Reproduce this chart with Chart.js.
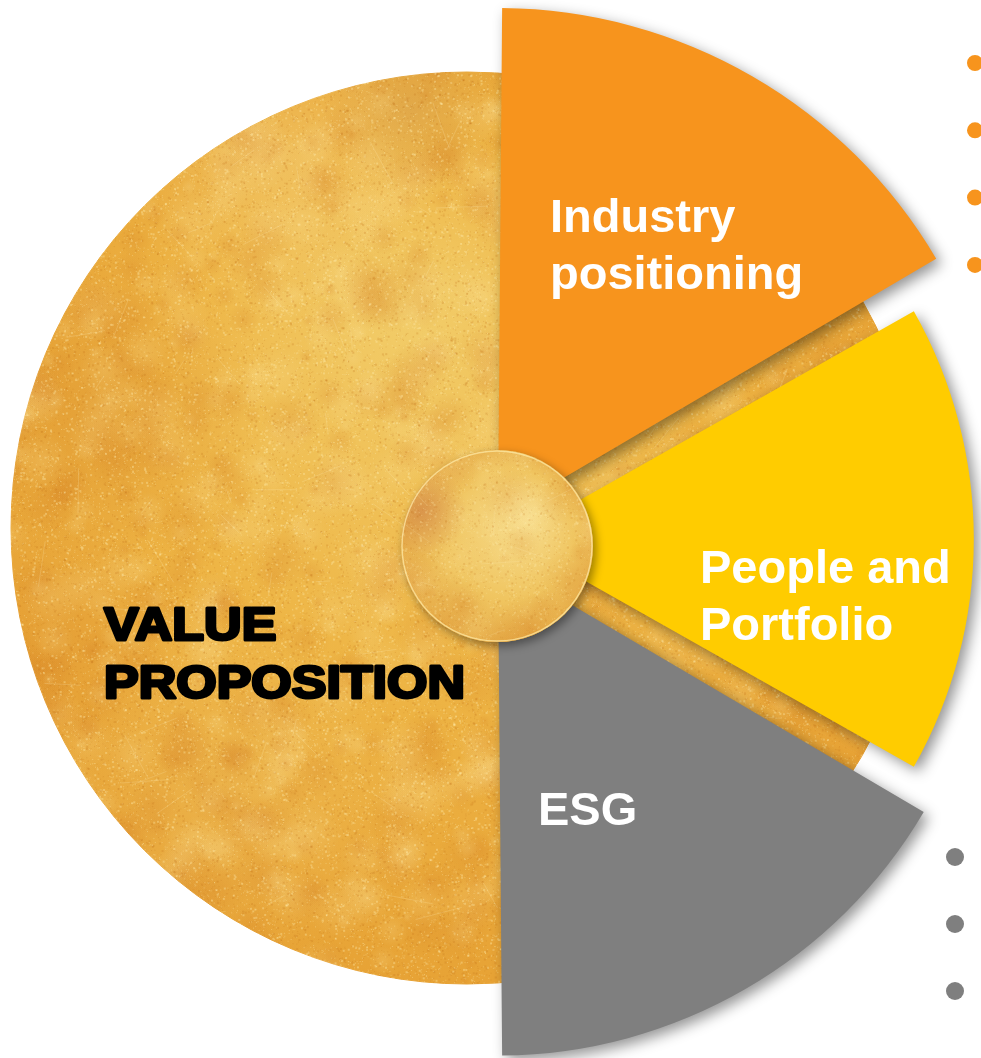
<!DOCTYPE html>
<html>
<head>
<meta charset="utf-8">
<script src="https://cdn.jsdelivr.net/npm/chart.js@4"></script>
<style>
  html, body { margin: 0; padding: 0; background: #fff; overflow: hidden; }
  #wrap { position: relative; width: 981px; height: 1058px; }
</style>
</head>
<body>
<div id="wrap"><canvas id="wheel"></canvas></div>
<script>
// slices, clockwise from 12 o'clock
const labels = ['Industry positioning', 'People and Portfolio', 'ESG', 'VALUE PROPOSITION'];
const labelLines = [['Industry', 'positioning'], ['People and', 'Portfolio'], ['ESG'], ['VALUE', 'PROPOSITION']];
const sliceAngles = [60, 60, 60, 180];
// radius of each pillar on a 0-100 radial scale (value proposition sits in the base disc)
const pillarValues = [100.5, 91, 97.5, 0];
const baseValues = [95, 95, 95, 95];
const orangeBullets = [1, 2, 3, 4];
const greyBullets = [1, 2, 3];

const sliceColors = ['#F7941D', '#FFCC00', '#7F7F7F', 'rgba(0,0,0,0)'];

const W = 981, H = 1058;

// gold leaf grain, transparent so it can go over any gradient
function grain(seed) {
  const c = document.createElement('canvas');
  c.width = W; c.height = H;
  const g = c.getContext('2d');
  let s = seed;
  const rnd = () => (s = (s * 16807) % 2147483647) / 2147483647;
  for (let i = 0; i < 1400; i++) {
    const x = rnd() * W, y = rnd() * H, r = 5 + rnd() * 28;
    const col = rnd() > 0.5 ? '252,226,150' : '212,128,36';
    const rg = g.createRadialGradient(x, y, 0, x, y, r);
    rg.addColorStop(0, 'rgba(' + col + ',0.22)');
    rg.addColorStop(1, 'rgba(' + col + ',0)');
    g.fillStyle = rg;
    g.fillRect(x - r, y - r, r * 2, r * 2);
  }
  for (let i = 0; i < 90000; i++) {
    const x = rnd() * W, y = rnd() * H;
    g.fillStyle = rnd() > 0.45 ? 'rgba(255,238,175,0.35)' : 'rgba(190,108,25,0.22)';
    const sz = rnd() > 0.8 ? 2 : 1;
    g.fillRect(x, y, sz, sz);
  }
  g.lineWidth = 1;
  for (let i = 0; i < 160; i++) {
    const x = rnd() * W, y = rnd() * H, a = rnd() * Math.PI, l = 10 + rnd() * 40;
    g.strokeStyle = 'rgba(255,240,190,0.2)';
    g.beginPath();
    g.moveTo(x, y);
    g.lineTo(x + Math.cos(a) * l, y + Math.sin(a) * l);
    g.stroke();
  }
  return c;
}

const grainTex = grain(12345);
const baseTex = document.createElement('canvas');
baseTex.width = W; baseTex.height = H;
(function () {
  const g = baseTex.getContext('2d');
  const grad = g.createRadialGradient(430, 320, 10, 460, 520, 520);
  grad.addColorStop(0, '#F2CC68');
  grad.addColorStop(0.5, '#EEB545');
  grad.addColorStop(1, '#E6A033');
  g.fillStyle = grad;
  g.fillRect(0, 0, W, H);
  // a few broad shades like the leaf folds
  [[120, 420, 160, '215,135,40', 0.35], [300, 180, 150, '245,215,140', 0.35], [430, 120, 90, '200,150,90', 0.3],
   [250, 800, 180, '240,200,110', 0.3], [80, 650, 120, '220,140,45', 0.3]].forEach(b => {
    const rg = g.createRadialGradient(b[0], b[1], 0, b[0], b[1], b[2]);
    rg.addColorStop(0, 'rgba(' + b[3] + ',' + b[4] + ')');
    rg.addColorStop(1, 'rgba(' + b[3] + ',0)');
    g.fillStyle = rg;
    g.fillRect(b[0] - b[2], b[1] - b[2], b[2] * 2, b[2] * 2);
  });
  g.drawImage(grainTex, 0, 0);
})();
const goldPattern = document.createElement('canvas').getContext('2d').createPattern(baseTex, 'no-repeat');

const wheelDecor = {
  id: 'wheelDecor',
  beforeDatasetDraw(chart, args) {
    const ctx = chart.ctx;
    ctx.save();
    if (args.index === 1) {
      ctx.translate(-18, -11);
    } else {
      ctx.shadowColor = 'rgba(0,0,0,0.42)';
      ctx.shadowBlur = 14;
      ctx.shadowOffsetX = 5;
      ctx.shadowOffsetY = 5;
    }
  },
  afterDatasetDraw(chart) {
    chart.ctx.restore();
  },
  afterDatasetsDraw(chart) {
    const ctx = chart.ctx;
    const r = chart.scales.r;
    const cx = r.xCenter, cy = r.yCenter;

    // hub
    const hx = cx + 12, hy = cy + 7, hr = 96;
    ctx.save();
    ctx.beginPath();
    ctx.arc(hx, hy, hr, 0, Math.PI * 2);
    ctx.shadowColor = 'rgba(0,0,0,0.4)';
    ctx.shadowBlur = 10;
    ctx.shadowOffsetX = 3;
    ctx.shadowOffsetY = 4;
    ctx.fillStyle = '#EFC25C';
    ctx.fill();
    ctx.restore();
    ctx.save();
    ctx.beginPath();
    ctx.arc(hx, hy, hr, 0, Math.PI * 2);
    ctx.clip();
    const hg = ctx.createRadialGradient(hx + 30, hy - 30, 5, hx, hy, hr * 1.1);
    hg.addColorStop(0, '#F7DC8C');
    hg.addColorStop(0.6, '#F0C560');
    hg.addColorStop(1, '#E5A845');
    ctx.fillStyle = hg;
    ctx.fillRect(hx - hr, hy - hr, hr * 2, hr * 2);
    const og = ctx.createRadialGradient(hx - 75, hy - 35, 2, hx - 75, hy - 35, 45);
    og.addColorStop(0, 'rgba(205,125,70,0.55)');
    og.addColorStop(1, 'rgba(205,125,70,0)');
    ctx.fillStyle = og;
    ctx.fillRect(hx - hr, hy - hr, hr * 2, hr * 2);
    ctx.globalAlpha = 0.8;
    ctx.drawImage(grainTex, 0, 0);
    ctx.globalAlpha = 1;
    ctx.beginPath();
    ctx.arc(hx, hy, hr - 1, 0, Math.PI * 2);
    ctx.strokeStyle = 'rgba(255,236,170,0.7)';
    ctx.lineWidth = 1.5;
    ctx.stroke();
    ctx.restore();

    // labels
    const pos = [[65, -307], [215, 44], [53, 286], [-381, 101]];
    ctx.save();
    ctx.textBaseline = 'alphabetic';
    ctx.textAlign = 'left';
    labelLines.forEach((lines, i) => {
      lines.forEach((t, j) => {
        const x = cx + pos[i][0], y = cy + pos[i][1] + j * 57;
        if (i === 3) {
          ctx.save();
          ctx.translate(x, y + (j ? 1 : 0));
          ctx.scale(1.13, 1);
          ctx.font = 'bold 46px "Liberation Sans", Arial, sans-serif';
          ctx.fillStyle = '#000';
          ctx.strokeStyle = '#000';
          ctx.lineWidth = 3;
          ctx.lineJoin = 'round';
          ctx.strokeText(t, 0, 0);
          ctx.fillText(t, 0, 0);
          ctx.restore();
        } else {
          ctx.font = 'bold 47px "Liberation Sans", Arial, sans-serif';
          ctx.fillStyle = '#fff';
          ctx.fillText(t, x, y);
        }
      });
    });
    ctx.restore();
  },
  afterDraw(chart) {
    const ctx = chart.ctx;
    ctx.save();
    ctx.fillStyle = '#F7941D';
    orangeBullets.forEach((b, i) => {
      ctx.beginPath();
      ctx.arc(975, 63 + i * 67.3, 8, 0, Math.PI * 2);
      ctx.fill();
    });
    ctx.fillStyle = '#7F7F7F';
    greyBullets.forEach((b, i) => {
      ctx.beginPath();
      ctx.arc(955, 857 + i * 67, 9, 0, Math.PI * 2);
      ctx.fill();
    });
    ctx.restore();
  }
};

new Chart(document.getElementById('wheel'), {
  type: 'polarArea',
  data: {
    labels: labels,
    datasets: [{
      label: 'Pillars',
      data: pillarValues,
      backgroundColor: sliceColors,
      borderWidth: 0,
      offset: [104, 104, 104, 0],
      angle: c => sliceAngles[c.dataIndex],
      clip: false
    }, {
      label: 'Value proposition',
      data: baseValues,
      backgroundColor: goldPattern,
      borderColor: goldPattern,
      borderWidth: 1,
      angle: c => sliceAngles[c.dataIndex],
      clip: false
    }]
  },
  options: {
    responsive: true,
    maintainAspectRatio: false,
    animation: false,
    events: [],
    layout: { padding: { left: 5, right: 16, top: 20, bottom: 0 } },
    plugins: { legend: { display: false }, tooltip: { enabled: false } },
    scales: { r: { display: false, min: 0, max: 100 } }
  },
  plugins: [wheelDecor]
});
</script>
</body>
</html>
